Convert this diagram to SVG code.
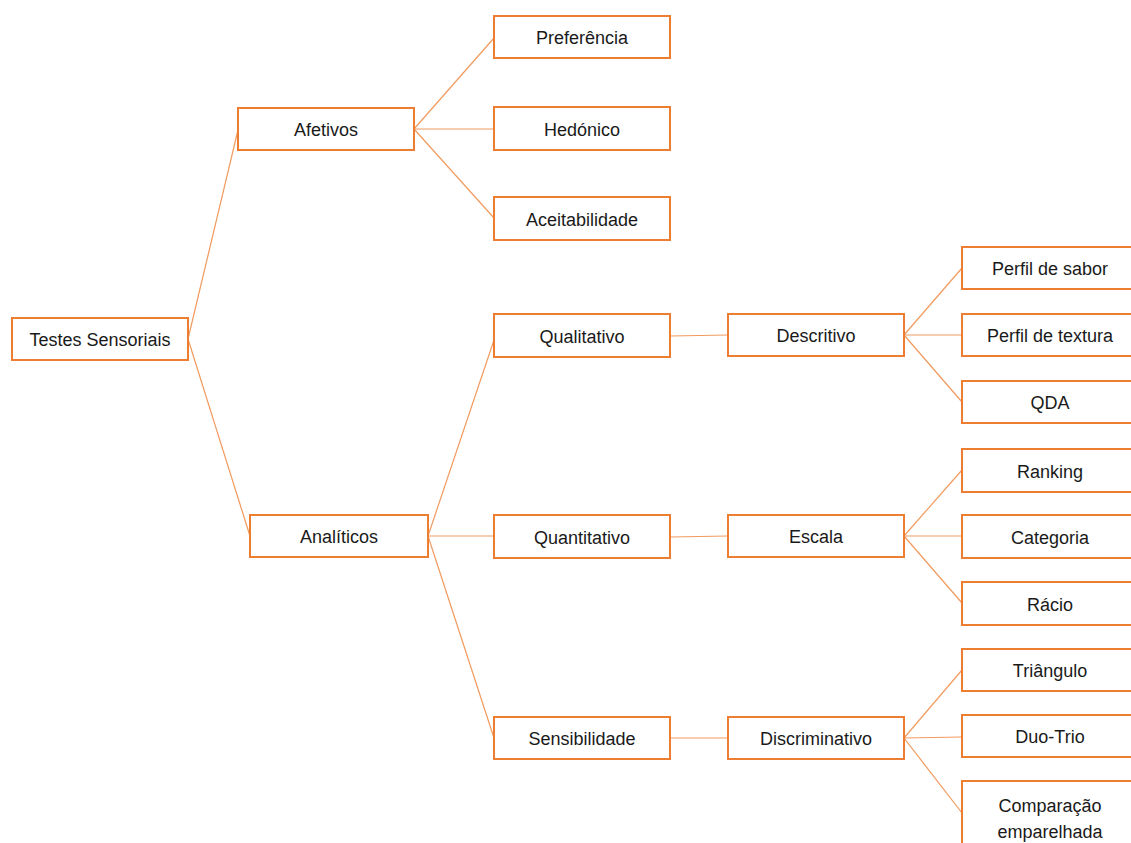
<svg xmlns="http://www.w3.org/2000/svg" width="1131" height="843" viewBox="0 0 1131 843">
<style>
.n rect{fill:#fff;stroke:#ED7D31;stroke-width:2}
.n text{font-family:"Liberation Sans",Arial,sans-serif;font-size:18px;fill:#1a1a1a;text-anchor:middle}
#connectors line{stroke:#F19a5e;stroke-width:1.2}
</style>
<rect width="1131" height="843" fill="#fff"/>
<g id="connectors">
<line x1="188" y1="339" x2="238" y2="130"/>
<line x1="188" y1="339" x2="250" y2="536"/>
<line x1="414" y1="129" x2="494" y2="38"/>
<line x1="414" y1="129" x2="494" y2="129"/>
<line x1="414" y1="129" x2="494" y2="218"/>
<line x1="428" y1="536" x2="494" y2="340"/>
<line x1="428" y1="536" x2="494" y2="536"/>
<line x1="428" y1="536" x2="494" y2="738"/>
<line x1="670" y1="336" x2="728" y2="335"/>
<line x1="670" y1="537" x2="728" y2="536"/>
<line x1="670" y1="738" x2="728" y2="738"/>
<line x1="904" y1="335" x2="962" y2="268"/>
<line x1="904" y1="335" x2="962" y2="335"/>
<line x1="904" y1="335" x2="962" y2="402"/>
<line x1="904" y1="536" x2="962" y2="470"/>
<line x1="904" y1="536" x2="962" y2="536"/>
<line x1="904" y1="536" x2="962" y2="603"/>
<line x1="904" y1="738" x2="962" y2="670"/>
<line x1="904" y1="738" x2="962" y2="737"/>
<line x1="904" y1="738" x2="962" y2="813"/>
</g>
<g id="testes" class="n"><rect x="12" y="318" width="176" height="42"/><text x="100" y="346">Testes Sensoriais</text></g>
<g id="afetivos" class="n"><rect x="238" y="108" width="176" height="42"/><text x="326" y="136">Afetivos</text></g>
<g id="preferencia" class="n"><rect x="494" y="16" width="176" height="42"/><text x="582" y="44">Preferência</text></g>
<g id="hedonico" class="n"><rect x="494" y="107" width="176" height="43"/><text x="582" y="136">Hedónico</text></g>
<g id="aceitabilidade" class="n"><rect x="494" y="197" width="176" height="43"/><text x="582" y="226">Aceitabilidade</text></g>
<g id="analiticos" class="n"><rect x="250" y="515" width="178" height="42"/><text x="339" y="543">Analíticos</text></g>
<g id="qualitativo" class="n"><rect x="494" y="314" width="176" height="43"/><text x="582" y="343">Qualitativo</text></g>
<g id="quantitativo" class="n"><rect x="494" y="515" width="176" height="43"/><text x="582" y="544">Quantitativo</text></g>
<g id="sensibilidade" class="n"><rect x="494" y="717" width="176" height="42"/><text x="582" y="745">Sensibilidade</text></g>
<g id="descritivo" class="n"><rect x="728" y="314" width="176" height="42"/><text x="816" y="342">Descritivo</text></g>
<g id="escala" class="n"><rect x="728" y="515" width="176" height="42"/><text x="816" y="543">Escala</text></g>
<g id="discriminativo" class="n"><rect x="728" y="717" width="176" height="42"/><text x="816" y="745">Discriminativo</text></g>
<g id="perfil-sabor" class="n"><rect x="962" y="247" width="176" height="42"/><text x="1050" y="275">Perfil de sabor</text></g>
<g id="perfil-textura" class="n"><rect x="962" y="314" width="176" height="42"/><text x="1050" y="342">Perfil de textura</text></g>
<g id="qda" class="n"><rect x="962" y="381" width="176" height="42"/><text x="1050" y="409">QDA</text></g>
<g id="ranking" class="n"><rect x="962" y="449" width="176" height="43"/><text x="1050" y="478">Ranking</text></g>
<g id="categoria" class="n"><rect x="962" y="515" width="176" height="43"/><text x="1050" y="544">Categoria</text></g>
<g id="racio" class="n"><rect x="962" y="582" width="176" height="43"/><text x="1050" y="611">Rácio</text></g>
<g id="triangulo" class="n"><rect x="962" y="649" width="176" height="42"/><text x="1050" y="677">Triângulo</text></g>
<g id="duo-trio" class="n"><rect x="962" y="715" width="176" height="42"/><text x="1050" y="743">Duo-Trio</text></g>
<g id="comparacao" class="n"><rect x="962" y="781" width="176" height="80"/><text x="1050" y="812">Comparação</text><text x="1050" y="838">emparelhada</text></g>
</svg>
